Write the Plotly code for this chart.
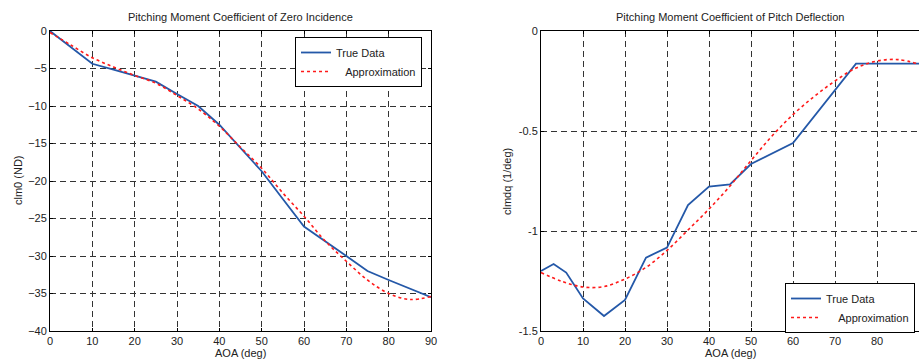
import plotly.graph_objects as go

# ---- data: left panel (clm0) ----
aoa_true_l = [0, 5, 10, 15, 20, 25, 30, 35, 40, 45, 50, 55, 60, 70, 75, 80, 90]
clm0_true = [0, -2.15, -4.37, -5.15, -5.94, -6.75, -8.4, -10.0, -12.5, -15.6, -18.7, -22.4, -26.07, -30.0, -32.0, -33.2, -35.5]
aoa_apx_l = [0, 5, 10, 15, 20, 25, 30, 35, 40, 45, 50, 55, 60, 65, 70, 75, 80, 85, 90]
clm0_apx = [-0.2, -1.9, -3.57, -4.8, -5.93, -6.96, -8.6, -10.4, -12.7, -15.5, -18.3, -21.6, -24.7, -28.0, -30.7, -33.2, -35.0, -35.8, -35.4]

# ---- data: right panel (clmdq) ----
aoa_true_r = [0, 3, 6, 10, 15, 20, 25, 30, 35, 40, 45, 50, 60, 75, 90]
clmdq_true = [-1.2, -1.165, -1.208, -1.337, -1.425, -1.345, -1.133, -1.083, -0.87, -0.778, -0.767, -0.665, -0.56, -0.163, -0.163]
aoa_apx_r = [0, 5, 10, 15, 20, 25, 30, 35, 40, 45, 50, 55, 60, 65, 70, 75, 80, 85, 90]
clmdq_apx = [-1.208, -1.252, -1.28, -1.278, -1.24, -1.182, -1.097, -0.995, -0.89, -0.775, -0.648, -0.525, -0.418, -0.328, -0.25, -0.185, -0.15, -0.143, -0.165]

x_ticks = [0, 10, 20, 30, 40, 50, 60, 70, 80, 90]
y_ticks_l = [0, -5, -10, -15, -20, -25, -30, -35, -40]
y_ticks_r = [0, -0.5, -1, -1.5]
y_ticktext_r = ["0", "-0.5", "-1", "-1.5"]

BLUE = "#2458a8"
RED = "#ff1a1a"
FONT = "Liberation Sans, Arial, sans-serif"
TXT = "#222222"

W, H = 919, 362
L, R, T, B = 50, 0, 31, 31
PW = W - L - R
PH = H - T - B
def px_to_paper_x(p):
    return (p - L) / PW
def py_to_paper_y(p):
    return 1 - (p - T) / PH

fig = go.Figure()
fig.add_trace(go.Scatter(x=aoa_true_l, y=clm0_true, mode="lines", name="True Data",
                         line=dict(color=BLUE, width=1.8), xaxis="x", yaxis="y", legend="legend"))
fig.add_trace(go.Scatter(x=aoa_apx_l, y=clm0_apx, mode="lines", name="\u00a0\u00a0\u00a0Approximation",
                         line=dict(color=RED, width=1.6, dash="dot", shape="spline"),
                         xaxis="x", yaxis="y", legend="legend"))
fig.add_trace(go.Scatter(x=aoa_true_r, y=clmdq_true, mode="lines", name="True Data",
                         line=dict(color=BLUE, width=1.8), xaxis="x2", yaxis="y2", legend="legend2"))
fig.add_trace(go.Scatter(x=aoa_apx_r, y=clmdq_apx, mode="lines", name="\u00a0\u00a0\u00a0\u00a0Approximation",
                         line=dict(color=RED, width=1.6, dash="dot", shape="spline"),
                         xaxis="x2", yaxis="y2", legend="legend2"))

grid = dict(showgrid=True, gridcolor="#333333", gridwidth=1, griddash="6px,4px",
            showline=True, linecolor="black", linewidth=1, ticks="inside", ticklen=3,
            tickcolor="black", zeroline=False, automargin=False,
            tickfont=dict(family=FONT, size=11, color=TXT))

fig.update_layout(
    width=W, height=H, margin=dict(l=L, r=R, t=T, b=B, autoexpand=False),
    plot_bgcolor="white", paper_bgcolor="white",
    font=dict(family=FONT, size=11, color=TXT),
    xaxis=dict(domain=[0, px_to_paper_x(431)], range=[0, 90], tickvals=x_ticks,
               mirror="ticks", anchor="y", **grid),
    yaxis=dict(domain=[0, 1], range=[-40, 0], tickvals=y_ticks_l, mirror="ticks", anchor="x", **grid),
    xaxis2=dict(domain=[px_to_paper_x(541), 1], range=[0, 90], tickvals=x_ticks,
                mirror="ticks", anchor="y2", **grid),
    yaxis2=dict(domain=[0, 1], range=[-1.5, 0], tickvals=y_ticks_r, ticktext=y_ticktext_r,
                mirror=False, anchor="x2", **grid),
    legend=dict(x=px_to_paper_x(422), y=py_to_paper_y(37), xanchor="right", yanchor="top",
                bgcolor="white", bordercolor="black", borderwidth=1,
                font=dict(family=FONT, size=11, color=TXT), tracegroupgap=0),
    legend2=dict(x=px_to_paper_x(915), y=py_to_paper_y(283), xanchor="right", yanchor="top",
                 bgcolor="white", bordercolor="black", borderwidth=1,
                 font=dict(family=FONT, size=11, color=TXT), tracegroupgap=0),
    showlegend=True,
)

def ann(text, xpx, ypx, angle=0):
    fig.add_annotation(text=text, x=px_to_paper_x(xpx), y=py_to_paper_y(ypx),
                       xref="paper", yref="paper", xanchor="center", yanchor="middle",
                       showarrow=False, textangle=angle,
                       font=dict(family=FONT, size=11, color=TXT))

ann("Pitching Moment Coefficient of Zero Incidence", 240.5, 17)
ann("Pitching Moment Coefficient of Pitch Deflection", 730, 17)
ann("AOA (deg)", 240.5, 353)
ann("AOA (deg)", 730.5, 353)
ann("clm0 (ND)", 18, 180, -90)
ann("clmdq (1/deg)", 507, 182, -90)

fig.write_html("out.html", config={"displayModeBar": False},
               post_script="document.body.style.margin='0';document.body.style.overflow='hidden';")
